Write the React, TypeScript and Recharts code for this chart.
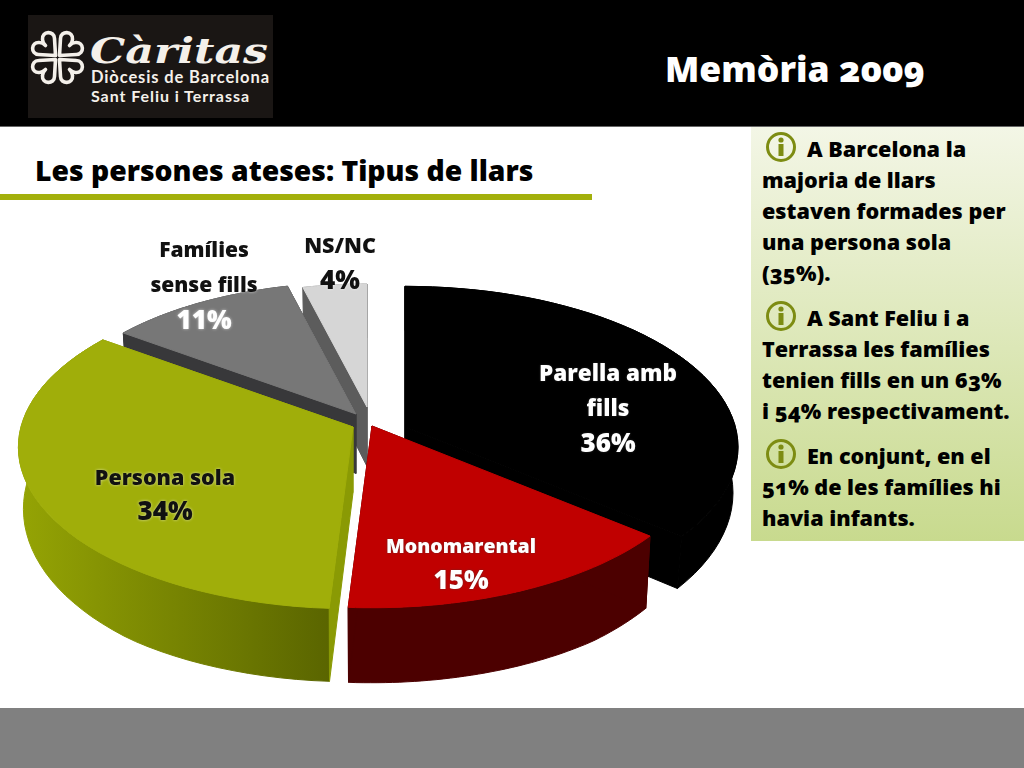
import React from "react";
import { PieChart, Pie } from "recharts";

// listed counter-clockwise starting at Parella, so the red slice paints over the black one
const categories = ["Parella amb fills", "NS/NC", "Famílies sense fills", "Persona sola", "Monomarental"];
const shares = [36, 4, 11, 34, 15];
const labelLines = [["Parella amb", "fills"], ["NS/NC"], ["Famílies", "sense fills"], ["Persona sola"], ["Monomarental"]];

const notes = [
  ["A Barcelona la", "majoria de llars", "estaven formades per", "una persona sola", "(35%)."],
  ["A Sant Feliu i a", "Terrassa les famílies", "tenien fills en un 63%", "i 54% respectivament."],
  ["En conjunt, en el", "51% de les famílies hi", "havia infants."],
];

const pieData = categories.map((name, i) => ({ name, value: shares[i] }));

// look of each slice: explosion offset, radius scale, depth, colours, label placement
const SLICE_STYLES: Record<string, any> = {
  "NS/NC": { dx: -1, dy: -18, scale: 0.87, depth: 66, top: "#d6d6d6", side: ["#8a8a8a", "#8a8a8a"], cut: "#5c5c5c", labelX: 340, labelY: 244, step: 35, size: 21.5, color: "#111" },
  "Famílies sense fills": { dx: -12, dy: -11, scale: 0.93, depth: 66, top: "#777777", side: ["#3a3a3c", "#3a3a3c"], cut: "#38383a", labelX: 204, labelY: 249, step: 35, size: 21, color: "#111", pctColor: "#fff" },
  "Persona sola": { dx: -15, dy: 2, scale: 1, depth: 73, top: "#a0ae0a", side: ["#95a404", "#5a6500"], cut: "#8a9a04", labelX: 165, labelY: 476, step: 34, size: 21.5, color: "#111" },
  "Monomarental": { dx: 4, dy: 1, scale: 1, depth: 75, top: "#c00000", side: ["#4c0000", "#4c0000"], cut: "#4c0000", labelX: 461, labelY: 545, step: 34, size: 19.5, color: "#fff" },
  "Parella amb fills": { dx: 37, dy: 2, scale: 0.995, depth: 54, top: "#000000", side: ["#000000", "#000000"], cut: "#000000", labelX: 608, labelY: 372, step: 35, size: 22.5, color: "#fff" },
};

const RADIUS = 332;
const TILT = 0.479;
const PERSPECTIVE = 0.125;

function project(angle: number, r: number, cx: number, cy: number) {
  const a = (angle * Math.PI) / 180;
  const s = 1 / (1 + PERSPECTIVE * Math.sin(a));
  return { x: cx + r * Math.cos(a) * s, y: cy - r * TILT * Math.sin(a) * s };
}

function toPath(points: { x: number; y: number }[]) {
  return points.map((p, i) => `${i ? "L" : "M"}${p.x.toFixed(1)} ${p.y.toFixed(1)}`).join(" ") + " Z";
}

function Slice3D(props: any) {
  const { cx, cy, startAngle, endAngle, name, index, payload } = props;
  const key = name ?? payload?.name;
  const st = SLICE_STYLES[key];
  const ox = cx + st.dx;
  const oy = cy + st.dy;
  const r = RADIUS * st.scale;
  const arc: { x: number; y: number }[] = [];
  for (let i = 0; i <= 48; i++) {
    arc.push(project(startAngle + ((endAngle - startAngle) * i) / 48, r, ox, oy));
  }
  // the wall gets a little shorter towards the back of the pie
  const lower = (p: { x: number; y: number }) => ({
    x: ox + (p.x - ox) * 0.985,
    y: p.y + st.depth * (0.82 + 0.18 * Math.min(1, Math.max(0, (p.y - oy) / 140))),
  });
  const apex = { x: ox, y: oy };
  const apexLow = { x: ox, y: oy + st.depth * 0.9 };
  const first = arc[0];
  const last = arc[arc.length - 1];
  const gradId = `side-${index}`;
  const lines = labelLines[categories.indexOf(key)];
  const share = shares[categories.indexOf(key)];
  const shadow = st.color === "#fff" ? "drop-shadow(0 0 1px rgba(60,60,60,.6))" : "drop-shadow(0 0 1.5px rgba(255,255,255,.6))";
  return (
    <g>
      <defs>
        <linearGradient id={gradId} x1="0" y1="0" x2="1" y2="0">
          <stop offset="0%" stopColor={st.side[0]} />
          <stop offset="100%" stopColor={st.side[1]} />
        </linearGradient>
      </defs>
      <path d={toPath([...arc, ...[...arc].reverse().map(lower)])} fill={`url(#${gradId})`} stroke={`url(#${gradId})`} strokeWidth={1} />
      <path d={toPath([first, apex, apexLow, lower(first)])} fill={st.cut} stroke={st.cut} strokeWidth={1} />
      <path d={toPath([last, apex, apexLow, lower(last)])} fill={st.cut} stroke={st.cut} strokeWidth={1} />
      <path d={toPath([apex, ...arc])} fill={st.top} stroke={st.top} strokeWidth={1} />
      <g fontFamily="Open Sans" fontWeight={800} textAnchor="middle" dominantBaseline="central" style={{ filter: shadow }}>
        {lines.map((line: string, i: number) => (
          <text key={line} x={st.labelX} y={st.labelY + i * st.step} fontSize={st.size} fill={st.color}>
            {line}
          </text>
        ))}
        <text x={st.labelX} y={st.labelY + lines.length * st.step} fontSize={26} fill={st.pctColor ?? st.color}>
          {share}%
        </text>
      </g>
    </g>
  );
}

function InfoIcon({ x, y }: { x: number; y: number }) {
  return (
    <svg style={{ position: "absolute", left: x - 16, top: y - 16 }} width={32} height={32}>
      <circle cx={16} cy={16} r={13.5} fill="none" stroke="#7d8c12" strokeWidth={3} />
      <circle cx={16} cy={9} r={2.6} fill="#7d8c12" />
      <rect x={13.5} y={13} width={5} height={12} fill="#7d8c12" />
    </svg>
  );
}

function Logo() {
  const hearts = [0, 90, 180, 270];
  return (
    <svg style={{ position: "absolute", left: 28, top: 15 }} width={245} height={103}>
      <rect width={245} height={103} fill="#1a1614" />
      <g transform="translate(29.5,42.5)" fill="none" stroke="#f4f0ea" strokeWidth={3.6} strokeLinejoin="round">
        {hearts.map((deg) => (
          <path key={deg} transform={`rotate(${deg})`} d="M2 -2 L3 -19 C3 -27 16 -27 15 -18 C15 -15 14 -14 12 -12 C14 -14 15 -15 18 -15 C27 -16 27 -3 19 -3 Z" />
        ))}
      </g>
      <text x={62} y={48} fontFamily="DejaVu Serif" fontStyle="italic" fontWeight={700} fontSize={36} textLength={178} lengthAdjust="spacingAndGlyphs" fill="#f4f0ea">Càritas</text>
      <text x={63} y={68} fontFamily="Lato" fontWeight={700} fontSize={16.5} textLength={178} fill="#f4f0ea">Diòcesis de Barcelona</text>
      <text x={63} y={87} fontFamily="Lato" fontWeight={700} fontSize={16} textLength={158} fill="#f4f0ea">Sant Feliu i Terrassa</text>
    </svg>
  );
}

export default function App() {
  const noteTops = [149, 318, 456];
  return (
    <div style={{ position: "fixed", left: 0, top: 0, width: 1024, height: 768, background: "#fff", overflow: "hidden", fontFamily: "Open Sans", color: "#000" }}>
      <div style={{ position: "absolute", left: 0, top: 0, width: 1024, height: 126, background: "#000" }} />
      <div style={{ position: "absolute", left: 0, top: 126, width: 1024, height: 1, background: "#666" }} />
      <Logo />
      <div style={{ position: "absolute", left: 665, top: 44, fontSize: 35.5, fontWeight: 800, color: "#fff", whiteSpace: "nowrap", fontFeatureSettings: '"onum"' }}>Memòria 2009</div>
      <div style={{ position: "absolute", left: 35, top: 151, fontSize: 28.3, fontWeight: 800, whiteSpace: "nowrap" }}>Les persones ateses: Tipus de llars</div>
      <div style={{ position: "absolute", left: 0, top: 194, width: 592, height: 6, background: "#a3b00c" }} />

      <div style={{ position: "absolute", left: 751, top: 127, width: 273, height: 414, background: "linear-gradient(#f3f6e6, #c8da8e)" }} />
      {notes.map((block, b) => (
        <React.Fragment key={b}>
          <InfoIcon x={781} y={noteTops[b] - 2} />
          {block.map((line, i) => (
            <div key={line} style={{ position: "absolute", left: i === 0 ? 807 : 762, top: noteTops[b] + i * 31 - 14, height: 28, lineHeight: "28px", fontSize: 21.6, fontWeight: 800, whiteSpace: "nowrap", fontFeatureSettings: '"onum"' }}>
              {line}
            </div>
          ))}
        </React.Fragment>
      ))}

      <div style={{ position: "absolute", left: 0, top: 708, width: 1024, height: 60, background: "#808080" }} />

      <div style={{ position: "absolute", left: 0, top: 0 }}>
        <PieChart width={1024} height={768} margin={{ top: 0, right: 0, bottom: 0, left: 0 }}>
          <Pie
            data={pieData}
            dataKey="value"
            nameKey="name"
            cx={368}
            cy={425}
            innerRadius={0}
            outerRadius={RADIUS}
            startAngle={-39.6}
            endAngle={320.4}
            stroke="none"
            isAnimationActive={false}
            labelLine={false}
            shape={Slice3D}
          />
        </PieChart>
      </div>
    </div>
  );
}
